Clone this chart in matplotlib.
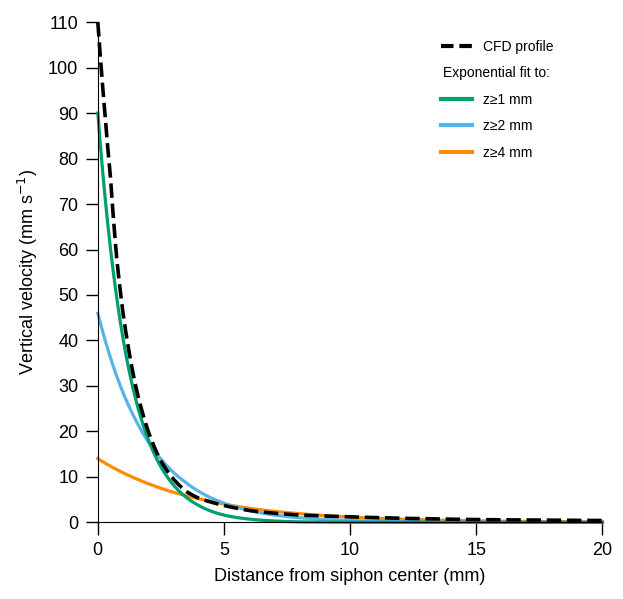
import numpy as np
import matplotlib
matplotlib.use("Agg")
import matplotlib.pyplot as plt
from matplotlib.lines import Line2D

plt.rcParams["font.family"] = ["Liberation Sans", "DejaVu Sans"]

# values
cfd_x = [0, 0.25, 0.5, 0.75, 1, 1.5, 2, 2.5, 3, 3.5, 4, 5, 6, 7, 8, 10, 12, 15, 20]
cfd_y = [110, 92, 76, 58, 46, 30, 20, 13.5, 9.5, 6.8, 5.3, 3.7, 2.6, 2.0, 1.6, 1.2, 0.9, 0.6, 0.4]

z1_x = [0, 0.25, 0.5, 0.75, 1, 1.5, 2, 2.5, 3, 3.5, 4, 5, 6, 7, 8, 10, 20]
z1_y = [90, 73.7, 60.3, 49.4, 40.4, 27.1, 18.2, 12.2, 8.2, 5.5, 3.7, 1.6, 0.7, 0.3, 0.1, 0.03, 0]

z2_x = [0, 0.5, 1, 1.5, 2, 2.5, 3, 3.5, 4, 5, 6, 7, 8, 10, 12, 15, 20]
z2_y = [46, 36.2, 28.5, 22.5, 17.7, 13.9, 11.0, 8.7, 6.8, 4.2, 2.6, 1.6, 1.0, 0.4, 0.15, 0.04, 0]

z4_x = [0, 1, 2, 3, 4, 5, 6, 7, 8, 10, 12, 15, 20]
z4_y = [14, 10.9, 8.5, 6.6, 5.2, 4.0, 3.1, 2.4, 1.9, 1.15, 0.7, 0.33, 0.1]


def smooth(x, y):
    xs = np.linspace(x[0], x[-1], 400)
    return xs, np.exp(np.interp(xs, x, np.log(np.maximum(y, 1e-3))))


fig = plt.figure(figsize=(6.23, 5.99), dpi=100)
ax = fig.add_axes([0.157, 0.128, 0.81, 0.835])

green, blue, orange = "#009E73", "#56B4E9", "#FF8C00"
ax.plot(*smooth(z4_x, z4_y), color=orange, lw=2.3, clip_on=False)
ax.plot(*smooth(z2_x, z2_y), color=blue, lw=2.3, clip_on=False)
ax.plot(*smooth(z1_x, z1_y), color=green, lw=2.3, clip_on=False)
ax.plot(*smooth(cfd_x, cfd_y), color="black", lw=2.6, ls=(0, (4, 1.6)), clip_on=False)

ax.set_xlim(0, 20)
ax.set_ylim(0, 110)
ax.set_xticks([0, 5, 10, 15, 20])
ax.set_yticks(range(0, 111, 10))
ax.spines["top"].set_visible(False)
ax.spines["right"].set_visible(False)
ax.tick_params(labelsize=13, width=1, length=9, pad=5)
ax.set_xlabel("Distance from siphon center (mm)", fontsize=13, labelpad=7)
ax.set_ylabel("Vertical velocity (mm s$^{-1}$)", fontsize=13, labelpad=6)

handles = [Line2D([], [], color="black", lw=3, ls=(0, (3, 1.4))),
           Line2D([], [], color="none"),
           Line2D([], [], color=green, lw=3),
           Line2D([], [], color=blue, lw=3),
           Line2D([], [], color=orange, lw=3)]
labels = ["CFD profile", "Exponential fit to:", "z≥1 mm", "z≥2 mm", "z≥4 mm"]
leg = ax.legend(handles, labels, loc="upper right", bbox_to_anchor=(1.0, 0.99),
                frameon=False, fontsize=10, handlelength=2.2, labelspacing=0.9)
leg.get_texts()[1].set_position((-40, 0))

fig.savefig("out.png", dpi=100)
